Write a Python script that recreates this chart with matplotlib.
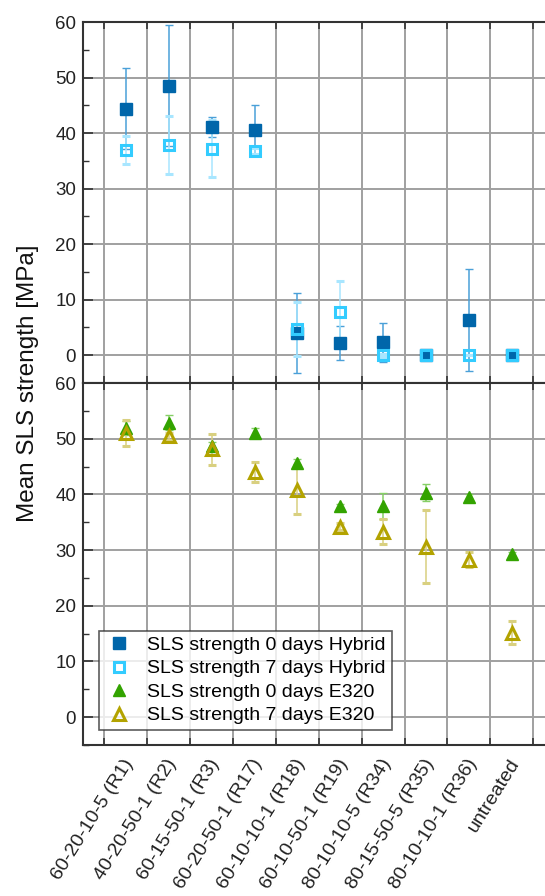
import matplotlib
matplotlib.use("Agg")
import matplotlib.pyplot as plt
import matplotlib.transforms as mtransforms
import numpy as np

plt.rcParams['font.family'] = ['Liberation Sans', 'DejaVu Sans']

categories = ['60-20-10-5 (R1)', '40-20-50-1 (R2)', '60-15-50-1 (R3)', '60-20-50-1 (R17)',
              '60-10-10-1 (R18)', '60-10-50-1 (R19)', '80-10-10-5 (R34)', '80-15-50-5 (R35)',
              '80-10-10-1 (R36)', 'untreated']

hyb0 = [44.4, 48.5, 41.1, 40.5, 4.0, 2.2, 2.3, 0.0, 6.3, 0.0]
hyb0_err = [7.3, 10.9, 1.8, 4.5, 7.2, 3.0, 3.5, 0.0, 9.2, 0.0]
hyb7 = [37.0, 37.8, 37.2, 36.8, 4.7, 7.8, 0.0, 0.0, 0.0, 0.0]
hyb7_err = [2.5, 5.2, 5.1, 0.5, 4.8, 5.5, 0.3, 0.0, 0.0, 0.0]

e0 = [51.9, 52.9, 48.6, 51.1, 45.7, 37.9, 37.9, 40.3, 39.6, 29.3]
e0_err = [1.3, 1.3, 0.8, 0.8, 0.6, 0.4, 2.4, 1.5, 0.4, 0.4]
e7 = [51.0, 50.4, 48.1, 44.1, 40.8, 34.2, 33.3, 30.6, 28.3, 15.2]
e7_err = [2.4, 0.6, 2.8, 1.8, 4.4, 0.6, 2.2, 6.6, 1.4, 2.1]

labels = ['SLS strength 0 days Hybrid', 'SLS strength 7 days Hybrid',
          'SLS strength 0 days E320', 'SLS strength 7 days E320']

x = np.arange(1, len(categories) + 1)

W, H = 545, 896
fig = plt.figure(figsize=(W / 100, H / 100), dpi=100)
left = 83 / W
width = 1 - left + 0.002
ax1 = fig.add_axes([left, 1 - 383 / H, width, (383 - 22) / H])
ax2 = fig.add_axes([left, 1 - 745 / H, width, (745 - 383) / H])

grid_col = '#a0a0a0'
spine_col = '#333333'

for ax in (ax1, ax2):
    ax.set_xlim(0, 10.8)
    ax.set_ylim(-5, 60)
    ax.set_yticks(np.arange(0, 61, 10))
    ax.set_yticks(np.arange(-5, 61, 5), minor=True)
    ax.set_xticks(np.arange(0.5, 11, 1))
    ax.grid(True, which='major', color=grid_col, lw=1.4)
    ax.set_axisbelow(True)
    ax.spines['right'].set_visible(False)
    for s in ('left', 'top', 'bottom'):
        ax.spines[s].set_color(spine_col)
        ax.spines[s].set_linewidth(1.5)
    ax.tick_params(axis='y', which='major', direction='in', length=7, width=1.2,
                   color=spine_col, labelsize=13.5, pad=5, labelcolor='#222222')
    ax.tick_params(axis='y', which='minor', direction='in', length=4, width=1.0,
                   color=spine_col)
    ax.tick_params(axis='x', which='major', direction='in', length=5, width=1.2,
                   color=spine_col, top=True, bottom=True, labelbottom=False)

ax1.tick_params(axis='x', which='minor', length=0, labelbottom=False)

def eb(ax, y, err, marker, color, ecolor, mfc, ms, mew):
    return ax.errorbar(x, y, yerr=err, fmt=marker, color=color, ecolor=ecolor,
                       mfc=mfc, mec=color, ms=ms, mew=mew, capsize=3.2,
                       elinewidth=1.1, capthick=1.1, zorder=3)

h1 = eb(ax1, hyb0, hyb0_err, 's', '#0066aa', '#4aa0d8', '#0066aa', 8, 1)
h2 = eb(ax1, hyb7, hyb7_err, 's', '#33ccff', '#a8e6ff', 'none', 7, 2.2)
h3 = eb(ax2, e0, e0_err, '^', '#33a300', '#86cf66', '#33a300', 8.5, 1)
h4 = eb(ax2, e7, e7_err, '^', '#b3a300', '#d9d080', 'none', 8, 2.2)

ax2.set_xticks(x, categories, minor=True)
ax2.tick_params(axis='x', which='minor', length=0, labelsize=14, pad=11,
                labelcolor='#222222')
shift = mtransforms.ScaledTranslation(4 / 100, 0, fig.dpi_scale_trans)
for lab in ax2.get_xticklabels(minor=True):
    lab.set_rotation(58)
    lab.set_ha('right')
    lab.set_va('center')
    lab.set_rotation_mode('anchor')
    lab.set_transform(lab.get_transform() + shift)

handles = [h1[0], h2[0], h3[0], h4[0]]
leg = ax2.legend(handles, labels, loc='lower left', bbox_to_anchor=(0.034, 0.041),
                 fontsize=14, frameon=True, fancybox=False, borderpad=0.3,
                 handletextpad=0.7, labelspacing=0.3, handlelength=1.5,
                 borderaxespad=0)
leg.get_frame().set_edgecolor('#333333')
leg.get_frame().set_linewidth(1.2)
leg.set_zorder(5)

fig.text(0.052, 1 - 383 / H, 'Mean SLS strength [MPa]', rotation=90, ha='center',
         va='center', fontsize=17.5, color='#111111')

fig.savefig('out.png', dpi=100)
